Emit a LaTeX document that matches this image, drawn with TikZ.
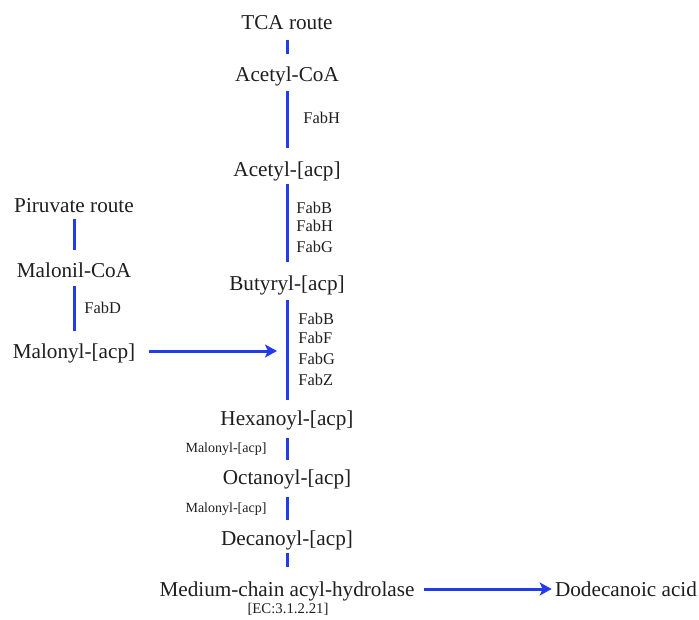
\documentclass[tikz,border=0pt]{standalone}
\usepackage{fontspec}
\setmainfont{Liberation Serif}
\usetikzlibrary{arrows.meta}

\definecolor{pathblue}{RGB}{35,60,235}
\definecolor{inkgray}{RGB}{30,30,30}

\tikzset{
    metab/.style={inner sep=0pt, text height=8.7pt, text depth=0.8pt, text=inkgray, font=\fontsize{10.6}{12}\selectfont},
    enzyme/.style={inner sep=0pt, anchor=west, text=inkgray, font=\fontsize{8.2}{9}\selectfont},
    donor/.style={inner sep=0pt, text=inkgray, font=\fontsize{7}{8}\selectfont},
    flow/.style={draw=pathblue, line width=1.5pt},
    feed/.style={flow, -{Stealth[length=6pt,width=6.5pt,inset=1.5pt]}}
}

\begin{document}
\begin{tikzpicture}[x=0.5pt, y=-0.5pt]
    \useasboundingbox (0,0) rectangle (699,619);

    % main chain
    \node[metab] (tca)  at (287,22)  {TCA route};
    \node[metab] (acoa) at (287,74)  {Acetyl-CoA};
    \node[metab] (aacp) at (287,169) {Acetyl-[acp]};
    \node[metab] (bacp) at (287,283) {Butyryl-[acp]};
    \node[metab] (hacp) at (287,418) {Hexanoyl-[acp]};
    \node[metab] (oacp) at (287,477) {Octanoyl-[acp]};
    \node[metab] (dacp) at (287,538) {Decanoyl-[acp]};
    \node[metab] (mcah) at (287,589) {Medium-chain acyl-hydrolase};
    \node[donor, font=\fontsize{7.4}{8}\selectfont] (ec) at (288,609) {[EC:3.1.2.21]};
    \node[metab] (doda) at (626,589) {Dodecanoic acid};

    % side branch
    \node[metab] (pir)  at (74,205) {Piruvate route};
    \node[metab] (mcoa) at (74,270) {Malonil-CoA};
    \node[metab] (macp) at (74,351) {Malonyl-[acp]};
    \coordinate (join) at (277,351);

    % enzymes
    \node[enzyme] (fabH1) at (303,118) {FabH};
    \node[enzyme] (fabB1) at (296,208) {FabB};
    \node[enzyme] (fabH2) at (296,226) {FabH};
    \node[enzyme] (fabG1) at (296,247) {FabG};
    \node[enzyme] (fabB2) at (298,319) {FabB};
    \node[enzyme] (fabF)  at (298,338) {FabF};
    \node[enzyme] (fabG2) at (298,359) {FabG};
    \node[enzyme] (fabZ)  at (298,380) {FabZ};
    \node[enzyme] (fabD)  at (84,308)  {FabD};
    \node[donor] (mal1) at (226,449) {Malonyl-[acp]};
    \node[donor] (mal2) at (226,509) {Malonyl-[acp]};

    % connectors
    \draw[flow, shorten <=4.25pt, shorten >=5.25pt] (tca.south) -- (acoa.north);
    \draw[flow, shorten <=3.75pt, shorten >=5.75pt] (acoa.south) -- (aacp.north);
    \draw[flow, shorten <=2.75pt, shorten >=5.75pt] (aacp.south) -- (bacp.north);
    \draw[flow, shorten <=3.75pt, shorten >=4.25pt] (bacp.south) -- (hacp.north);
    \draw[flow, shorten <=5.25pt, shorten >=3.75pt] (hacp.south) -- (oacp.north);
    \draw[flow, shorten <=5.25pt, shorten >=4.25pt] (oacp.south) -- (dacp.north);
    \draw[flow, shorten <=2.75pt, shorten >=6.25pt] (dacp.south) -- (mcah.north);
    \draw[flow, shorten <=2.25pt, shorten >=5.25pt] (pir.south) -- (mcoa.north);
    \draw[flow, shorten <=3.25pt, shorten >=5.25pt] (mcoa.south) -- (macp.north);
    \draw[feed, shorten <=6.5pt] (macp.east) -- (join);
    \draw[feed, shorten <=4.5pt, shorten >=1.5pt] (mcah.east) -- (doda.west);
\end{tikzpicture}
\end{document}
